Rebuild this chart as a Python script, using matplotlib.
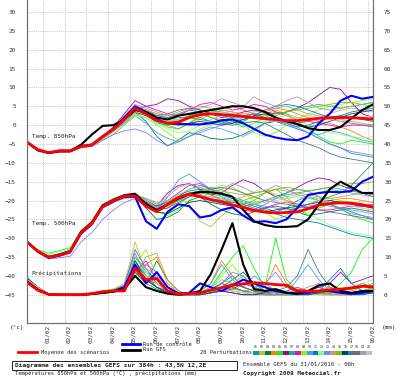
import matplotlib; matplotlib.use("Agg")
import matplotlib.pyplot as plt
from matplotlib.lines import Line2D
from matplotlib.patches import Rectangle
from matplotlib.transforms import ScaledTranslation

MONO = "DejaVu Sans Mono"
HOURS = list(range(0, 385, 12))   # 31/01 06h .. +384h, every 12h
DAY_HOURS = [18, 42, 66, 90, 114, 138, 162, 186, 210, 234, 258, 282, 306, 330, 354, 378]
DAY_LABELS = ["01/02", "02/02", "03/02", "04/02", "05/02", "06/02", "07/02", "08/02",
              "09/02", "10/02", "11/02", "12/02", "13/02", "14/02", "15/02", "16/02"]
PERT_LABELS = [f"{i:02d}" for i in range(1, 21)]
PERT_COLORS = ["#00a0a0", "#c0c040", "#008040", "#ff8000", "#00ff00", "#a000a0", "#00c080", "#ff00c0",
               "#80ff00", "#40a0ff", "#0080c0", "#80ff80", "#8080ff", "#c0a060", "#80c000", "#004080",
               "#408080", "#806080", "#a0a0a0", "#c0c0c0"]

# ---- temperature 850 hPa (°C) ----
t850_mean = [-4.5,-6.5,-7.3,-6.8,-6.8,-5.7,-5.2,-3.0,-1.0, 1.5,4.5,3.0,1.2,0.5,0.8, 2.0,2.8,3.0,2.8,2.6,2.3,
             2.0,1.7,1.5,1.2,1.2,1.5, 1.8,2.0,2.0,2.0,1.8,1.6]
t850_ctrl = [-4.5,-6.7,-7.4,-7.0,-7.0,-5.5,-5.3,-3.0,-1.0, 2.0,5.0,3.5,1.5,0.5,0.3, 0.2,0.2,0.5,1.3,1.5,0.5,
             -1.0,-2.5,-3.3,-3.8,-4.0,-3.0, 0.5,3.0,6.5,7.8,7.0,7.5]
t850_gfs = [-4.5,-6.6,-7.3,-6.8,-6.8,-5.2,-2.5,-0.2,0.0, 1.5,4.0,3.5,2.0,1.5,2.5, 3.0,3.5,4.0,4.5,5.0,5.0,
            4.5,3.5,2.0,1.0,0.3,-0.8, -1.3,-1.3,-0.5,1.8,4.0,5.5]
t850_pert = [
    [-4.5,-6.5,-7.3,-6.8,-6.9,-5.6,-5.0,-3.0,-0.5, 2.0,5.0,3.5,2.0,1.5,2.5, 3.0,2.0,1.0,0.5,1.5,2.5, 3.0,2.0,1.0,0.0,-1.0,-2.0, -3.5,-5.0,-6.0,-7.5,-8.0,-8.5],
    [-4.6,-6.7,-7.5,-7.0,-7.0,-5.8,-5.5,-3.5,-1.5, 0.5,3.0,4.0,3.0,2.0,1.0, 0.0,1.5,3.0,4.0,3.5,2.5, 2.0,3.0,4.0,3.0,2.0,1.5, 2.0,3.0,4.0,4.5,4.0,3.5],
    [-4.5,-6.6,-7.4,-7.0,-7.0,-5.8,-5.3,-3.3,-1.5, 1.0,3.5,1.0,-3.0,-5.5,-4.0, -2.0,-2.5,-3.5,-3.8,-3.5,-2.5, -1.0,0.5,1.0,0.5,-0.5,0.0, 1.0,2.0,2.5,2.0,1.5,1.0],
    [-4.5,-6.6,-7.2,-6.8,-7.0,-6.0,-5.6,-4.0,-2.5, 0.0,2.5,3.5,2.0,0.0,-1.0, 0.5,2.0,3.5,4.5,5.0,4.0, 3.0,3.5,4.5,4.0,3.0,2.0, 1.0,0.5,-0.5,-1.5,-3.0,-4.0],
    [-4.5,-6.5,-7.3,-6.9,-6.9,-5.5,-5.0,-3.0,-0.5, 1.5,4.0,3.0,1.0,-0.5,-1.0, 0.5,2.5,4.0,3.0,1.0,-0.5, 0.5,2.0,3.5,3.0,1.0,-1.0, -3.0,-4.5,-5.0,-4.0,-4.5,-5.0],
    [-4.4,-6.5,-7.2,-6.7,-6.8,-5.6,-5.2,-3.0,-0.5, 3.0,6.5,5.0,5.5,7.0,6.5, 5.0,4.0,3.0,2.0,2.5,3.5, 4.0,3.5,3.0,3.5,4.5,6.0, 8.0,10.0,9.5,6.0,3.0,2.0],
    [-4.5,-6.6,-7.3,-6.9,-7.0,-5.7,-5.3,-3.2,-1.0, 1.5,4.5,3.0,0.5,0.0,1.0, 2.5,3.5,4.0,3.5,3.0,2.5, 2.0,1.5,2.5,3.5,4.5,5.0, 5.5,5.0,4.5,5.0,5.5,6.0],
    [-4.6,-6.7,-7.4,-7.0,-7.0,-5.9,-5.4,-3.4,-1.3, 1.0,4.0,5.0,4.0,3.0,2.5, 4.0,5.5,6.0,5.0,4.0,4.5, 5.5,5.0,3.5,2.5,1.5,1.0, 0.5,0.0,-0.5,0.0,0.0,0.0],
    [-4.5,-6.6,-7.3,-6.9,-6.9,-5.7,-5.2,-3.1,-0.8, 1.0,3.0,2.0,0.0,-2.0,-4.0, -3.0,-1.0,0.0,1.0,2.0,0.0, -2.0,-3.0,-2.0,0.0,1.5,3.0, 4.0,5.0,5.5,6.0,6.5,7.0],
    [-4.5,-6.6,-7.4,-7.0,-7.0,-5.8,-5.4,-3.5,-1.5, 0.5,2.5,0.5,-2.0,-3.5,-4.5, -3.0,-1.5,-0.5,-1.0,-2.0,-3.0, -1.5,0.5,1.5,0.5,-1.0,-2.0, -2.5,-1.5,-2.0,-3.0,-4.0,-4.5],
    [-4.5,-6.6,-7.3,-6.9,-7.0,-5.7,-5.3,-3.2,-1.0, 2.0,5.0,4.0,2.5,2.0,3.0, 4.0,3.5,2.0,1.0,0.5,1.0, 2.5,4.0,5.0,5.5,5.0,4.0, 3.0,2.0,2.5,3.5,4.0,4.5],
    [-4.5,-6.6,-7.4,-7.0,-7.0,-5.8,-5.5,-3.8,-2.0, 0.0,2.5,2.0,0.5,-1.0,-2.0, -1.5,0.0,1.5,2.5,2.0,1.0, 0.5,1.0,2.0,2.5,1.5,0.0, -1.0,-2.0,-2.5,-3.0,-3.5,-3.0],
    [-4.5,-6.7,-7.5,-7.1,-7.0,-5.9,-5.7,-4.0,-2.5, -1.5,-1.0,-2.0,-4.0,-5.5,-4.5, -3.0,-2.0,-1.0,0.0,1.0,2.0, 3.0,2.0,1.0,0.5,-0.5,-2.0, -3.5,-5.0,-6.0,-7.0,-7.5,-8.0],
    [-4.5,-6.6,-7.3,-6.9,-7.0,-5.8,-5.3,-3.3,-1.3, 1.5,4.5,4.0,3.0,2.5,3.5, 4.5,5.0,4.5,4.0,3.5,3.0, 3.5,4.0,4.5,5.0,4.0,3.0, 2.5,2.0,1.5,1.0,0.5,0.0],
    [-4.5,-6.6,-7.3,-6.9,-6.9,-5.7,-5.2,-3.1,-0.9, 1.5,4.0,3.0,1.5,1.0,1.5, 2.5,3.0,2.0,1.5,1.0,1.5, 2.0,2.5,3.0,3.5,4.0,4.5, 5.0,5.5,6.0,6.0,5.5,5.0],
    [-4.5,-6.6,-7.4,-7.0,-7.0,-5.8,-5.4,-3.4,-1.4, 1.0,3.5,2.5,1.0,0.5,0.0, 0.5,1.0,0.5,0.0,0.5,1.5, 2.5,3.0,2.0,1.0,0.0,-0.5, 0.0,1.0,2.0,3.0,3.5,4.0],
    [-4.5,-6.6,-7.3,-6.9,-7.0,-5.7,-5.3,-3.2,-1.1, 1.5,4.0,3.0,2.0,1.5,2.0, 2.0,1.5,1.0,0.5,0.0,0.5, 1.0,0.5,-1.0,-2.5,-4.0,-5.0, -6.0,-7.5,-8.5,-9.0,-9.5,-10.0],
    [-4.5,-6.6,-7.4,-7.0,-7.0,-5.8,-5.4,-3.5,-1.5, 1.0,4.0,3.5,2.5,3.0,4.0, 4.5,4.0,3.0,2.5,2.0,2.5, 3.0,2.0,1.5,1.0,0.5,1.0, 2.0,1.5,1.0,0.5,0.0,-0.5],
    [-4.5,-6.6,-7.3,-6.9,-6.9,-5.7,-5.2,-3.0,-0.7, 2.5,5.5,4.5,3.5,2.5,3.0, 4.0,4.5,5.5,7.0,6.0,5.0, 7.5,6.0,5.0,6.5,7.5,6.0, 4.5,4.0,4.5,5.0,5.5,6.0],
    [-4.5,-6.6,-7.4,-7.0,-7.0,-5.8,-5.4,-3.4,-1.3, 1.0,3.5,3.0,2.0,1.0,1.5, 2.0,2.5,3.0,3.5,3.0,2.5, 2.0,1.5,1.0,1.5,2.0,2.5, 2.0,1.5,1.0,1.5,2.0,2.5],
]

# ---- temperature 500 hPa (°C) ----
t500_mean = [-31,-33.5,-35,-34.5,-33.5,-28.5,-26,-21.5,-20, -18.8,-18.8,-21.5,-23,-21,-19.2, -18.3,-19,-19.8,-20.4,-21.2,-21.8,
             -22.6,-23.1,-23.3,-23.2,-23,-22.2, -21.2,-20.8,-20.6,-20.7,-21.1,-21.7]
t500_ctrl = [-31,-33.6,-35.2,-34.6,-33.6,-28.7,-26.2,-21.6,-20.1, -19,-19,-25.5,-27.5,-23,-21, -21.5,-24.5,-24,-22.5,-21.8,-24,
             -25.7,-25.5,-26,-25,-22,-18.5, -18,-17.7,-17.8,-17.5,-15,-13.7]
t500_gfs = [-31,-33.4,-35,-34.3,-33.4,-28.3,-25.8,-21.3,-19.8, -18.6,-18.2,-21,-22.5,-21,-19.5, -18.3,-17.7,-17.8,-18.2,-19,-22.5,
            -25.5,-26.5,-27,-27,-26.8,-25, -21,-17,-15,-16.5,-18,-18]
t500_pert = [
    [-31,-33.3,-34.8,-34.2,-33.2,-28,-25.5,-21,-19.5, -18.5,-18.5,-20,-22,-21,-19, -17,-16,-17,-18,-19,-20, -21,-22,-23,-22,-20,-19, -20,-21,-22,-23,-24,-25],
    [-31,-33.6,-35.2,-34.7,-33.8,-29,-26.5,-22,-20.5, -19.5,-19,-20.5,-22.5,-21,-19.5, -21,-25.5,-27,-24,-22,-21, -20.5,-20,-19.5,-19,-18.5,-19, -19.5,-20,-20.5,-21,-21.5,-22],
    [-31,-33.5,-35,-34.5,-33.5,-28.5,-26,-21.5,-20, -19,-19,-22,-25,-24.5,-23, -20,-19,-21,-22.5,-23.5,-24, -23,-22,-21.5,-22,-23,-24, -23.5,-23,-22.5,-22,-22.5,-23],
    [-31,-33.4,-35,-34.4,-33.5,-28.5,-26,-21.8,-20.3, -19.3,-19,-20.5,-22.5,-22,-20, -18.5,-18,-18,-19,-20,-19, -18,-17.5,-18.5,-20,-21,-22, -21,-20,-19.5,-19.5,-20,-20.5],
    [-31,-33,-34,-33.3,-32.5,-28,-25.5,-21,-19.5, -18.5,-18.3,-20,-23,-23.5,-21, -19,-17.5,-16.5,-17,-19,-21, -20,-18,-17,-19,-22,-24, -22,-21,-22,-24,-25,-26],
    [-31,-33.6,-35.3,-34.8,-34,-29,-26.5,-22,-20.5, -19,-18.8,-20.5,-21.5,-18,-16, -15.5,-17,-18.5,-18,-16,-14.5, -15.5,-17.5,-19,-18,-16.5,-15, -14,-14.5,-16,-17,-18,-19],
    [-31,-33.4,-35,-34.4,-33.4,-28.3,-25.8,-21.3,-19.8, -18.8,-18.6,-20,-22,-21,-19.5, -18,-17.5,-18.5,-20,-21,-21.5, -21,-20,-19,-18.5,-18,-17.5, -17,-16.5,-17,-17.5,-18,-18.5],
    [-31,-33.5,-35,-34.5,-33.5,-28.5,-26,-21.5,-20, -19,-18.7,-20,-22,-20,-18, -16,-15.5,-17,-19,-21,-22.5, -23,-22,-21,-20.5,-21,-22, -22.5,-22.5,-22,-21.5,-21.5,-21],
    [-31,-33.4,-35,-34.4,-33.4,-28.4,-25.9,-21.4,-19.9, -18.9,-18.6,-20.5,-23,-24,-22.5, -20.5,-18.5,-17,-16,-16.5,-18, -20,-23,-25,-24,-21,-19.5, -19,-19.5,-20,-20.5,-21,-21.5],
    [-31,-33.5,-35,-34.6,-33.7,-28.7,-26.2,-21.8,-20.3, -19.3,-19,-21,-23,-19,-14.5, -13,-15,-17,-19,-20,-21.5, -22.5,-21,-19.5,-18,-17,-17.5, -19,-21,-22.5,-23.5,-24,-24.5],
    [-31,-33.4,-35,-34.4,-33.4,-28.5,-26,-21.5,-20, -19,-18.6,-20,-21.5,-20,-18.5, -17.5,-17,-17.5,-18.5,-19.5,-20.5, -21.5,-22.5,-23.5,-24.5,-25,-25.5, -26,-27,-28,-29,-29.5,-30],
    [-31,-33,-34.3,-33.6,-32.8,-28,-25.5,-21,-19.5, -18.5,-18.2,-19.5,-21,-20,-18.5, -17,-16.5,-17.5,-19,-20,-19, -17.5,-17,-18.5,-20.5,-22,-23.5, -25,-26.5,-27.5,-28.5,-29,-29.5],
    [-31,-33.7,-35.5,-35.2,-34.8,-31,-28.5,-25,-22.5, -20.5,-19.5,-20.5,-22,-21.5,-20, -19,-18.5,-19,-19.5,-20,-20.5, -21,-21.5,-22,-22.5,-22,-21.5, -21,-21.5,-22,-22.5,-23,-23.5],
    [-31,-33.5,-35,-34.5,-33.5,-28.5,-26,-21.5,-20, -19,-18.7,-19.5,-20.5,-20,-19, -18,-17.5,-17,-17.5,-18,-18.5, -18,-17.5,-17,-17.5,-18,-18.5, -19,-19.5,-19,-18.5,-18,-18],
    [-31,-33.4,-35,-34.4,-33.4,-28.4,-25.9,-21.4,-19.9, -18.9,-18.5,-20,-22,-21.5,-20, -18.5,-18,-18.5,-19.5,-20.5,-20, -19,-18,-17,-16.5,-17,-17.5, -17,-16.5,-16,-15.5,-15.5,-15],
    [-31,-33.5,-35,-34.6,-33.6,-28.6,-26.1,-21.6,-20.1, -19.1,-18.8,-20.5,-23,-23.5,-22, -20.5,-20,-20.5,-21,-21.5,-22, -22.5,-23,-22.5,-22,-21.5,-21, -20.5,-20,-20.5,-21,-21.5,-22],
    [-31,-33.4,-35,-34.4,-33.5,-28.5,-26,-21.5,-20, -19,-18.7,-20,-21.5,-20.5,-19, -18,-18.5,-19.5,-20,-20.5,-21, -22,-23,-23.5,-23,-22,-21, -20,-19,-18,-16,-13,-10],
    [-31,-33.5,-35,-34.5,-33.5,-28.5,-26,-21.5,-20, -19,-18.7,-20,-22.5,-22,-20.5, -19,-18,-17,-16.5,-17,-18, -19,-20,-20.5,-21,-21.5,-22, -22.5,-23,-23.5,-24,-24.5,-25],
    [-31,-33.4,-35,-34.4,-33.4,-28.4,-25.9,-21.4,-19.9, -18.9,-18.5,-19.5,-21,-19,-16.5, -15.5,-16.5,-18,-17,-15.5,-16.5, -18,-17.5,-16,-17,-18.5,-19, -18,-17,-17.5,-18,-18.5,-19],
    [-31,-33.5,-35,-34.5,-33.5,-28.5,-26,-21.5,-20, -19,-18.7,-20,-22,-21,-19.5, -18.5,-18.5,-19,-19.5,-20,-20.5, -21,-20.5,-20,-19.5,-19,-19.5, -20,-20.5,-21,-21.5,-22,-22.5],
]

# ---- precipitation (mm, right axis) ----
pr_mean = [3.3,1.2,0.1,0,0,0,0.3,0.8,1.0, 1.0,7.0,4.0,4.3,1.0,0.2, 0.3,0.5,1.2,1.9,2.5,2.9,
           3.2,3.0,2.7,2.5,1.0,0.9, 1.0,1.3,1.5,1.8,2.3,2.0]
pr_ctrl = [3.5,1.3,0.1,0,0,0,0.2,0.5,0.9, 2,8,3,6,2,0.3, 0.5,3,2,1,2.5,4, 3,2,1,0.5,0.3,0.5, 1,1,0.5,0.3,0.5,1]
pr_gfs = [3.5,1.3,0.1,0,0,0,0.2,0.5,0.8, 1.5,5.0,2.0,1.0,0.3,0, 0.3,1.0,5.5,12,19,8, 1.5,1,1.5,0.5,0.3,1, 2.5,3,1,0.5,1,1]
pr_pert = [
    [4,2,0.2,0,0,0,0.2,0.5,1, 2,9,5,2,0.5,0, 0,0.5,1,3,5,2, 1,0.5,0,0,0.5,1, 2,1,0.5,0,0.5,1],
    [3.5,1.5,0,0,0,0,0.5,1,1.5, 3,14,6,3,1,0, 0,0,0.5,1,2,1, 0.5,0,0,0.5,1,0.5, 0,0,0,0.5,1,0.5],
    [4,2,0.2,0,0,0,0.3,0.8,1, 1.5,6,3,9,4,1, 0,0,0.5,2,4,6, 3,1,0.5,0,0,0, 0.5,1,1.5,2,3,2],
    [3,1.5,0,0,0,0,0.2,0.5,1, 2,5,8,10,3,0.5, 0,1,3,9,5,2, 1,2,8,3,1,0.5, 0,0,0.5,1,2,3],
    [4.5,2,0.2,0,0,0,0.3,1,1.5, 2,8,4,2,0.5,0, 0,0.5,2,6,10,13, 7,2,15,4,1,0.5, 0,0.5,3,6,12,15],
    [4,2,0.2,0,0,0,0.2,0.5,1, 2,7,4,2,1,0, 0,0,0.5,1,1.5,3, 2,1,0.5,0,0.5,1, 2,3,6,3,4,5],
    [3.5,1.5,0,0,0,0,0.2,0.5,0.8, 1.5,10,6,4,1,0, 0,0.5,1.5,3,2,1, 0.5,0,0,0,0,0.5, 0.5,0.3,0,0,0.2,0.5],
    [4,2,0.2,0,0,0,0.2,0.5,1, 2,6,9,4,1,0, 0,0,0.5,1,0.5,0, 0,0,0,0.5,1.5,1, 0.5,0,0,0,0.5,1],
    [4,2,0.2,0,0,0,0.3,0.8,1.2, 2,8,12,5,1,0, 0,0.5,2,5,8,4, 2,1,0.5,0,0.5,1, 0.5,0,0,0.5,1,0.5],
    [4.5,2,0.2,0,0,0,0.2,0.5,1, 2.5,11,5,3,1,0, 0.5,1,3,8,4,2, 5,3,1,0.5,4,8, 4,1,0.5,0,0.5,1],
    [3.5,1.5,0,0,0,0,0.2,0.5,1, 2,6,4,3,1,0, 0,0,0.5,1,3,2, 1,0,0,0,0,0.5, 1,4,7,3,1,0.5],
    [4,2,0.2,0,0,0,0.3,0.8,1.5, 2.5,9,6,3,1,0.5, 0,0,0.5,1,2,4, 3,2,1,0.5,0,0, 0,0.5,1,2,3,4],
    [4,2,0.2,0,0,0,0.2,0.6,1, 2,7,8,6,2,0.5, 0,0.5,1,3,6,5, 2,3,6,2,0.5,0, 0.5,1,0.5,0,0.5,1],
    [3.5,1.5,0,0,0,0,0.2,0.5,1, 1.5,5,10,11,4,1, 0,0.5,1,2,1,0.5, 0,0,0,0,0.5,1, 0.5,0,0,0,0.5,0.5],
    [4,2,0.2,0,0,0,0.3,0.7,1.2, 2,8,5,2,0.5,0, 0,0.5,1,2,1.5,1, 1.5,2,1,0.5,0,0.5, 1,2,1,0.5,1,2],
    [4.5,2,0.2,0,0,0,0.2,0.5,1, 2,9,4,2,0.5,0, 0,0,0.5,1,0.5,0, 0,0.5,1,0.5,0,0, 0.5,1,0.5,0,0,0.5],
    [4,2,0.2,0,0,0,0.2,0.5,1, 2,6,3,1.5,0.5,0, 0,0.5,1.5,3,2,1, 0.5,0.5,1,2,5,12, 6,2,1,0.5,0.5,1],
    [3.5,1.5,0,0,0,0,0.3,0.8,1.3, 2.5,12,7,3,1,0, 0,0.5,1,2,3,2, 1,0.5,0.5,1,2,1, 0.5,0.5,1,1.5,2,2.5],
    [4,2,0.2,0,0,0,0.2,0.6,1, 2,10,7,5,2,0.5, 0,0.5,2,4,3,5, 2,1,0.5,0.5,1,2, 3,2,1,0.5,1,1.5],
    [4,2,0.2,0,0,0,0.2,0.5,0.8, 1.5,7,5,3,1,0, 0,0.5,1,1.5,1,0.5, 0.5,1,1.5,1,0.5,0.5, 1,1.5,1,0.5,0.5,1],
]

W, H = 400, 378
fig = plt.figure(figsize=(W/100, H/100), dpi=100)
ax = fig.add_axes([27/W, 55/H, 346/W, 323/H])
ax.set_xlim(0, 384); ax.set_ylim(-52.5, 33.2)
ax2 = ax.twinx(); ax2.set_ylim(-7.5, 78.2)   # precipitation axis = temperature + 45

for sp in ["top"]: ax.spines[sp].set_visible(False); ax2.spines[sp].set_visible(False)
for a in (ax, ax2):
    for sp in ["left", "right", "bottom"]:
        a.spines[sp].set_color("#707070"); a.spines[sp].set_linewidth(0.8)

ax.set_yticks(range(-45, 31, 5)); ax2.set_yticks(range(0, 76, 5))
ax.set_xticks(DAY_HOURS); ax.set_xticklabels(DAY_LABELS, rotation=90, va="top", ha="center")
ax.tick_params(axis="both", length=0, labelsize=4.3, colors="#333333")
ax.tick_params(axis="y", pad=8); ax.tick_params(axis="x", pad=1.5)
ax2.tick_params(axis="y", length=0, labelsize=4.3, colors="#333333", pad=8)
for lab in ax.get_xticklabels() + ax.get_yticklabels() + ax2.get_yticklabels():
    lab.set_family(MONO)
for lab in ax.get_xticklabels():
    lab.set_transform(lab.get_transform() + ScaledTranslation(3/72, 0, fig.dpi_scale_trans))
ax.grid(True, color="#c8c8c8", lw=0.6, ls=(0, (1.5, 1)))
ax.set_axisbelow(True)

# perturbations, then control / GFS / mean on top
for vals850, vals500, valspr, col in zip(t850_pert, t500_pert, pr_pert, PERT_COLORS):
    ax.plot(HOURS, vals850, color=col, lw=0.6, zorder=2)
    ax.plot(HOURS, vals500, color=col, lw=0.6, zorder=2)
    ax2.plot(HOURS, valspr, color=col, lw=0.6, zorder=2)
for v850, v500, vpr, col, lw, z in [(t850_ctrl, t500_ctrl, pr_ctrl, "#0000ff", 1.5, 3),
                                    (t850_gfs, t500_gfs, pr_gfs, "#000000", 1.5, 4),
                                    (t850_mean, t500_mean, pr_mean, "#ff0000", 2.0, 5)]:
    ax.plot(HOURS, v850, color=col, lw=lw, zorder=z)
    ax.plot(HOURS, v500, color=col, lw=lw, zorder=z)
    ax2.plot(HOURS, vpr, color=col, lw=lw, zorder=z)

tk = dict(family=MONO, fontsize=4.3, color="#222222", va="center", ha="left", zorder=6)
ax.text(5, -2.9, "Temp. 850hPa", **tk)
ax.text(5, -26.2, "Temp. 500hPa", **tk)
ax.text(5, -39.2, "Précipitations", **tk)

def fx(x): return x / W
def fy(y): return 1 - y / H
ft = dict(family=MONO, color="#222222", va="center", ha="left")
fig.text(fx(10), fy(327), "(°c)", fontsize=4.3, **ft)
fig.text(fx(382), fy(327), "(mm)", fontsize=4.3, **ft)

# legend
fig.add_artist(Line2D([fx(18), fx(37)], [fy(352), fy(352)], color="#ff0000", lw=2.0))
fig.text(fx(41), fy(352), "Moyenne des scénarios", fontsize=3.9, **ft)
fig.add_artist(Line2D([fx(122), fx(140)], [fy(344), fy(344)], color="#0000ff", lw=2.0))
fig.text(fx(143), fy(344), "Run de contrôle", fontsize=3.9, **ft)
fig.add_artist(Line2D([fx(122), fx(140)], [fy(349.5), fy(349.5)], color="#000000", lw=2.0))
fig.text(fx(143), fy(349.5), "Run GFS", fontsize=3.9, **ft)
fig.text(fx(200), fy(352), "20 Perturbations", fontsize=3.9, **ft)
bw = 119 / 20
for i, (lab, col) in enumerate(zip(PERT_LABELS, PERT_COLORS)):
    x0 = 253 + i * bw
    fig.add_artist(Rectangle((fx(x0), fy(354.5)), bw / W, 4 / H, transform=fig.transFigure,
                             facecolor=col, edgecolor="none"))
    fig.text(fx(x0 + bw / 2), fy(347), lab, fontsize=2.3, family=MONO, color="#222222",
             ha="center", va="center")

# title box
fig.add_artist(Rectangle((fx(12), fy(369.5)), 225 / W, 8.5 / H, transform=fig.transFigure,
                         facecolor="white", edgecolor="#222222", lw=0.7))
fig.text(fx(15), fy(365.2), "Diagramme des ensembles GEFS sur 384h : 43,5N 12,2E",
         fontsize=4.5, weight="bold", **ft)
fig.text(fx(15), fy(373.5), "Températures 850hPa et 500hPa (°C) , précipitations (mm)",
         fontsize=3.9, **ft)
fig.text(fx(243), fy(364.5), "Ensemble GEFS du 31/01/2010 - 06h", fontsize=4.05, **ft)
fig.text(fx(243), fy(373.5), "Copyright 2009 Meteociel.fr", fontsize=4.3, weight="bold", **ft)

fig.savefig("out.png", dpi=100)
